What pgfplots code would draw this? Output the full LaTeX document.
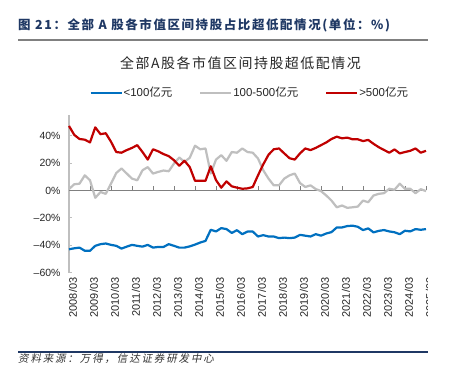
\documentclass[border=0pt]{standalone}
\usepackage{pgfplots}
\pgfplotsset{compat=1.18}
\usepackage{pgfplotstable}
\usepackage{fontspec}
\setmainfont{Liberation Sans}
\newfontfamily\cjk{Noto Sans CJK SC}
\newfontfamily\cjkhead[LetterSpace=13]{Noto Sans CJK SC}
\newfontfamily\cjktitle[LetterSpace=11]{Noto Sans CJK SC}
\newfontfamily\cjkit[FakeSlant=0.2,LetterSpace=18]{Noto Sans CJK SC}
\definecolor{navy}{HTML}{1F3864}
\definecolor{cblue}{HTML}{0070C0}
\definecolor{cgrey}{HTML}{BFBFBF}
\definecolor{cred}{HTML}{C00000}

\pgfplotstableread{
i blue grey red
0 -42.9 1.0 47
1 -42.2 4.5 40.5
2 -41.7 4.9 37.5
3 -44 11 37
4 -44 7.4 35
5 -40.4 -5.4 46
6 -39.2 -1.2 41
7 -38.7 -2.5 41.7
8 -39.7 4.9 35.5
9 -40.4 12.7 28
10 -42.4 16 27.5
11 -41 12.3 29.4
12 -39.7 8.6 31
13 -40.4 7.4 33
14 -41 14.7 28
15 -39.7 17 22.5
16 -41.7 12.3 30
17 -41.2 13.5 28.5
18 -41.2 14.5 26.5
19 -39.2 14 25
20 -40.4 19.6 22
21 -41.7 24 18
22 -41.7 20.8 21.6
23 -40.8 23.8 17
24 -39.5 32.6 7
25 -38 30 7
26 -36.8 30.6 7
27 -28.7 12.3 17.6
28 -29.9 22.5 7.5
29 -27.5 25.7 2
30 -28.2 21.6 6.6
31 -31 28 3
32 -29 27.5 2
33 -31.9 30.6 1.2
34 -30 28 1.5
35 -30 27.5 2.5
36 -33.6 23.3 11
37 -32.6 14.7 19
38 -33.6 8.6 26
39 -33.6 3.7 30
40 -34.8 3.7 30.6
41 -34.4 8.6 27
42 -34.8 11 23.5
43 -34.4 12.3 22.5
44 -32.4 5.4 27
45 -33 2.5 30.6
46 -33.6 3.7 29.4
47 -31.9 1 31
48 -33 -0.5 33
49 -31.4 -3.7 35
50 -30.4 -7.4 37.5
51 -27 -12.3 39.2
52 -27 -11 38
53 -26 -12.7 38.5
54 -25.7 -12.3 37.3
55 -26.5 -11.8 37.3
56 -28.9 -7.4 36
57 -27.7 -8.6 36.8
58 -30.6 -3.7 34
59 -29.5 -2.5 31.5
60 -28.9 -2 29.5
61 -29.9 1.2 27.5
62 -30.5 0.5 29.9
63 -31.9 4.9 27
64 -29.4 1.2 28
65 -29.9 1.2 28.9
66 -28.2 -2 30.6
67 -28.7 0.9 27.5
68 -28.2 -0.5 28.9
}\datatable

\begin{document}
\begin{tikzpicture}[x=1bp,y=1bp]
\useasboundingbox (0,0) rectangle (454,379);
\fill[white] (0,0) rectangle (454,379);
% header
\node[anchor=west, inner sep=0pt, text=navy, font=\cjkhead\bfseries\fontsize{12.5}{14}\selectfont] at (18,354) {图 21：全部 A 股各市值区间持股占比超低配情况(单位：\%)};
\draw[gray, line width=1.8bp] (18,339) -- (428,339);
% chart title
\node[anchor=center, inner sep=0pt, text=black!85, font=\cjktitle\fontsize{14}{16}\selectfont] at (240.5,316.3) {全部A股各市值区间持股超低配情况};
% footer
\draw[navy, line width=1.4bp] (18,27) -- (428,27);
\node[anchor=west, inner sep=0pt, text=black!80, font=\cjkit\fontsize{10.5}{12}\selectfont] at (18,20) {资料来源：万得，信达证券研发中心};
\begin{scope}
\clip (0,0) rectangle (427.5,379);
\begin{axis}[
  at={(69bp,106.3bp)}, anchor=south west,
  scale only axis, width=357bp, height=157.7bp,
  xmin=0, xmax=68, ymin=-60, ymax=55,
  axis x line=bottom, axis y line=left,
  x axis line style={draw=none},
  y axis line style={draw=cgrey, line width=1.2bp, -},
  xtick={0,4,...,68},
  xticklabels={2008/03,2009/03,2010/03,2011/03,2012/03,2013/03,2014/03,2015/03,2016/03,2017/03,2018/03,2019/03,2020/03,2021/03,2022/03,2023/03,2024/03,2025/03},
  major x tick style={draw=none},
  xticklabel style={rotate=90, anchor=east, font=\fontsize{11}{12}\selectfont, text=black!85, yshift=-4bp},
  ytick={-60,-40,-20,0,20,40},
  yticklabels={--60\%,--40\%,--20\%,0\%,20\%,40\%},
  yticklabel style={font=\fontsize{10.5}{12}\selectfont, text=black!85, xshift=-5bp},
  ytick align=inside, major tick length=3bp,
  major y tick style={draw=cgrey, line width=0.8bp},
  clip=false,
  legend columns=3,
  legend style={at={(0.505,1.141)}, anchor=center, draw=none, fill=none,
    font=\fontsize{11.5}{13}\selectfont, text=black!85,
    nodes={inner sep=1bp},
    /tikz/every even column/.append style={column sep=26bp}},
  legend image code/.code={\draw[#1, line width=2bp] (0bp,0bp) -- (31bp,0bp);},
]
\draw[gray, line width=1bp] (axis cs:0,0) -- (axis cs:68,0);
\pgfplotsinvokeforeach{4,8,12,16,20,24,28,32,36,40,44,48,52,56,60,64,68}{
  \draw[gray, line width=0.8bp] (axis cs:#1,0) -- (axis cs:#1,3);
}
\addplot[cblue, line width=2.2bp, line join=round] table[x=i, y=blue] {\datatable};
\addlegendentry{<100{\cjk 亿元}}
\addplot[cgrey, line width=2.2bp, line join=round] table[x=i, y=grey] {\datatable};
\addlegendentry{100-500{\cjk 亿元}}
\addplot[cred, line width=2.2bp, line join=round] table[x=i, y=red] {\datatable};
\addlegendentry{>500{\cjk 亿元}}
\end{axis}
\end{scope}
\end{tikzpicture}
\end{document}
